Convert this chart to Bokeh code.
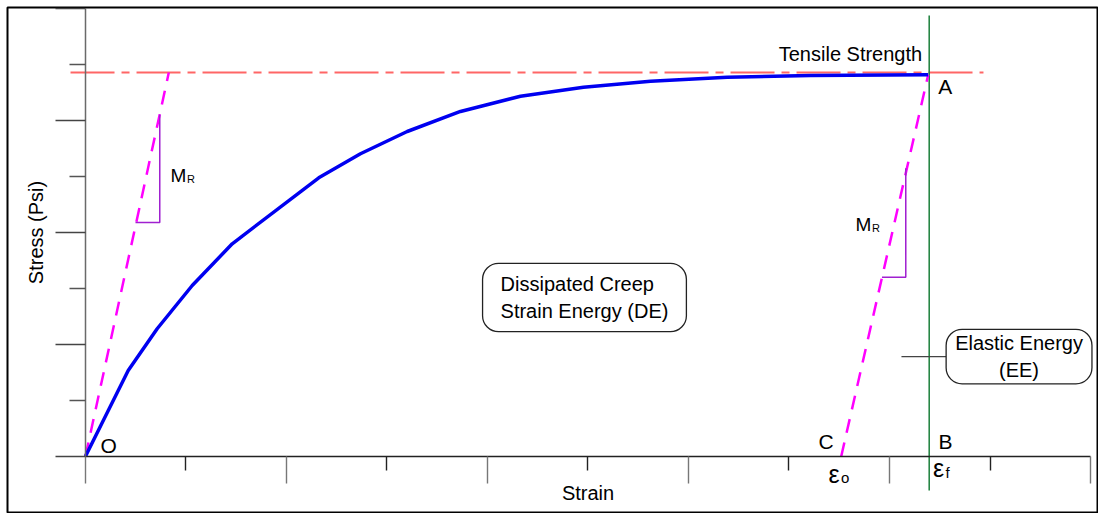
from bokeh.plotting import figure
from bokeh.models import Range1d, FixedTicker, Label, LinearAxis
from bokeh.embed import file_html
from bokeh.resources import INLINE

# ---- data ----
strain = [0.0, 0.425, 0.713, 1.062, 1.460, 2.321, 2.736, 3.201, 3.731,
          4.328, 4.955, 5.622, 6.385, 7.214, 8.385]
stress = [0.0, 1.531, 2.277, 3.050, 3.796, 4.975, 5.404, 5.802, 6.160,
          6.433, 6.594, 6.701, 6.773, 6.803, 6.815]
tensile_strength = 6.857
tensile_x = [-0.149, 8.935]
load_left_x = [0.0, 0.829]
eps_o = 7.52
eps_f = 8.395
eps_f_y = [7.875, -0.613]
mr_left_x = [0.4975, 0.739, 0.739]
mr_left_y = [4.176, 4.176, 6.106]
mr_right_x = [7.925, 8.162, 8.162]
mr_right_y = [3.199, 3.199, 5.147]
leader_x = [8.119, 8.567]
leader_y = 1.78
x_major = [0, 2, 4, 6, 8, 10]
x_minor = [1, 3, 5, 7, 9]
y_major = [0, 2, 4, 6, 8]
y_minor = [1, 3, 5, 7]

FONT = "Liberation Sans"

p = figure(width=1098, height=513, output_backend="svg", toolbar_location=None,
           x_range=Range1d(-0.7761, 10.0796), y_range=Range1d(-1.024, 8.018),
           min_border_left=7, min_border_top=7, min_border_right=0, min_border_bottom=0)
p.xgrid.visible = False
p.ygrid.visible = False
p.outline_line_color = "black"
p.outline_line_width = 2
p.background_fill_color = "white"
p.border_fill_color = "white"

# main axes placed at the origin (short ticks + axis line + title)
xa = p.xaxis[0]
ya = p.yaxis[0]
xa.ticker = FixedTicker(ticks=[], minor_ticks=x_minor)
ya.ticker = FixedTicker(ticks=[], minor_ticks=y_minor)
# second axes carrying the long ticks
xb = LinearAxis(ticker=FixedTicker(ticks=[], minor_ticks=x_major))
yb = LinearAxis(ticker=FixedTicker(ticks=[], minor_ticks=y_major))
p.add_layout(xb, "below")
p.add_layout(yb, "left")

for ax in (xa, ya, xb, yb):
    ax.fixed_location = 0
    ax.major_tick_in = 0
    ax.minor_tick_in = 0
    ax.major_label_standoff = 0
    ax.axis_line_width = 1.5
    ax.minor_tick_line_width = 1.4
    ax.axis_label_text_font = FONT
    ax.axis_label_text_font_size = "20px"
    ax.axis_label_text_font_style = "normal"
    ax.axis_label_text_color = "black"
xa.bounds = (0, 10)
xb.bounds = (0, 10)
ya.bounds = (0, 8)
yb.bounds = (0, 8)
xa.major_tick_out = 27
xa.minor_tick_out = 14
xb.major_tick_out = 27
xb.minor_tick_out = 27
ya.major_tick_out = 30
ya.minor_tick_out = 16
yb.major_tick_out = 30
yb.minor_tick_out = 30
xa.axis_line_color = "#222222"
xa.minor_tick_line_color = "#222222"
xb.axis_line_color = None
xb.minor_tick_line_color = "#777777"
ya.axis_line_color = "#6a6a6a"
ya.minor_tick_line_color = "#555555"
yb.axis_line_color = None
yb.minor_tick_line_color = "#444444"
xa.axis_label = "Strain"
ya.axis_label = "Stress (Psi)"
xa.axis_label_standoff = 11
ya.axis_label_standoff = 23

# tensile strength line
p.line(tensile_x, [tensile_strength, tensile_strength], line_color="#FF6666",
       line_width=2, line_dash="44 7 8 7")
# failure strain line
p.line([eps_f, eps_f], eps_f_y, line_color="#1B7F3B", line_width=1.5)
# resilient modulus (loading / unloading) lines
p.line(load_left_x, [0, tensile_strength], line_color="#FF00FF", line_width=2.5,
       line_dash="14 10")
p.line([eps_o, strain[-1]], [0, stress[-1]], line_color="#FF00FF", line_width=2.5,
       line_dash="14 10")
# slope triangles
p.line(mr_left_x, mr_left_y, line_color="#A020D0", line_width=1.5)
p.line(mr_right_x, mr_right_y, line_color="#A020D0", line_width=1.5)
# leader line
p.line(leader_x, [leader_y, leader_y], line_color="#444444", line_width=1.2)
# stress-strain curve
p.line(strain, stress, line_color="#0000F0", line_width=3.5)


def lab(x, y, text, size, align="left", font=FONT, xoff=0):
    p.add_layout(Label(x=x, y=y, text=text, text_font=font, text_font_size=f"{size}px",
                       text_align=align, text_baseline="alphabetic", text_color="black",
                       x_offset=xoff, y_offset=round(0.4 * size, 1)))


lab(8.325, 7.053, "Tensile Strength", 20, align="right")
lab(0.149, 0.043, "O", 21)
lab(strain[-1] + 0.10, 6.463, "A", 21)
lab(7.294, 0.114, "C", 21)
lab(8.488, 0.12, "B", 21)
# M_R labels
lab(0.846, 4.879, "M", 19)
lab(0.846, 4.879, "R", 11, xoff=16.5)
lab(7.662, 4.003, "M", 19)
lab(7.662, 4.003, "R", 11, xoff=16.5)
# strain symbols
lab(7.393, -0.488, "ε", 25)
lab(7.393, -0.488, "o", 15, xoff=12.5)
lab(8.434, -0.398, "ε", 25)
lab(8.434, -0.398, "f", 15, xoff=12.5)

# rounded text boxes
p.add_layout(Label(x=4.965, y=2.836, text="Dissipated Creep\nStrain Energy (DE)",
                   text_font=FONT, text_font_size="20px", text_align="left",
                   text_baseline="middle", anchor="center", padding=(18, 10),
                   border_radius=16, border_line_color="#222222", border_line_width=1.3,
                   background_fill_color="white", text_color="black"))
p.add_layout(Label(x=9.289, y=leader_y, text="Elastic Energy\n(EE)",
                   text_font=FONT, text_font_size="20px", text_align="center",
                   text_baseline="middle", anchor="center", padding=(9, 3),
                   border_radius=16, border_line_color="#222222", border_line_width=1.3,
                   background_fill_color="white", text_color="black"))

open("out.html", "w").write(file_html(p, INLINE))
